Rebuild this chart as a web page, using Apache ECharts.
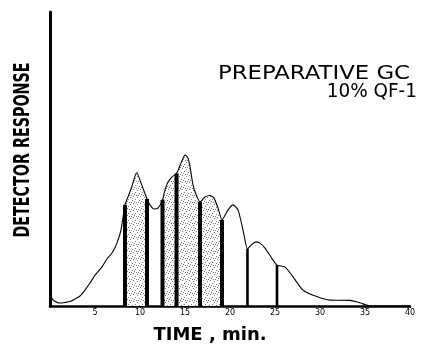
<!DOCTYPE html>
<html>
<head>
<meta charset="utf-8">
<script src="https://cdn.jsdelivr.net/npm/echarts@6.0.0/dist/echarts.min.js"></script>
<style>html,body{margin:0;padding:0;background:#fff;}#c{width:428px;height:346px;}</style>
</head>
<body>
<div id="c"></div>
<script>
// Chromatogram trace: retention time (min) and detector response (relative units)
const times = [0, 0.19, 0.56, 1.11, 1.67, 2.22, 2.78, 3.33, 3.89, 4.44, 5.0, 5.78, 6.33, 6.89, 7.44, 7.89,
  8.33, 8.67, 9.08, 9.63, 10.19, 10.78, 11.11, 11.56, 12.0, 12.5, 12.78, 13.11, 13.56, 14.06, 14.56, 15.0,
  15.33, 15.56, 15.89, 16.22, 16.67, 17.22, 17.78, 18.22, 18.67, 19.11, 19.78, 20.33, 20.89, 21.44, 21.94,
  22.33, 22.89, 23.33, 23.89, 24.63, 25.22, 26.11, 27.0, 28.11, 29.63, 31.11, 33.33, 34.44, 35.56, 40];
const response = [6.1, 2.7, 1.5, 1.0, 1.2, 1.5, 2.4, 3.4, 5.4, 7.8, 10.5, 13.3, 16.0, 18.0, 21.4, 25.9,
  34.4, 37.1, 40.5, 45.4, 41.2, 36.4, 34.4, 33.0, 33.3, 36.1, 39.5, 42.2, 43.9, 45.1, 48.6, 51.4,
  50.3, 47.3, 41.2, 38.0, 35.4, 37.1, 37.6, 36.7, 33.3, 29.3, 32.7, 34.4, 32.7, 25.9, 19.4,
  20.7, 21.8, 21.4, 19.7, 16.3, 13.9, 13.3, 9.9, 5.4, 3.2, 2.0, 1.9, 1.1, 0, 0];
// Fraction-collection cut times (min)
const cutTimes = [8.33, 10.78, 12.5, 14.06, 16.67, 19.11, 21.94, 25.22];
// Collected (stippled) fractions: pairs of cut indices
const collectedFractions = [[0, 1], [2, 3], [3, 4], [4, 5]];
// X tick labels
const tickValues = [5, 10, 15, 20, 25, 30, 35, 40];
const titleLines = ['PREPARATIVE GC', '10% QF-1'];
const xTitle = 'TIME , min.';
const yTitle = 'DETECTOR RESPONSE';

const curve = times.map((t, i) => [t, response[i]]);
const cuts = cutTimes.map(t => [t, response[times.indexOf(t)]]);

// stipple pattern
const pat = document.createElement('canvas');
pat.width = 7; pat.height = 7;
const pc = pat.getContext('2d');
pc.fillStyle = '#ffffff'; pc.fillRect(0, 0, 7, 7);
pc.fillStyle = '#7a7a7a';
[[0,0],[4,1],[2,3],[6,4],[1,5],[5,6],[3,6]].forEach(p => pc.fillRect(p[0], p[1], 1, 1));

const SMOOTH = 0.2;
const bandSeries = collectedFractions.map(([a, b]) => {
  const i0 = times.indexOf(cutTimes[a]);
  const i1 = times.indexOf(cutTimes[b]);
  return {
    type: 'line', data: curve.slice(i0, i1 + 1), smooth: SMOOTH, symbol: 'none', silent: true,
    lineStyle: { width: 0, opacity: 0 },
    areaStyle: { color: { image: pat, repeat: 'repeat' }, opacity: 1 },
    z: 1
  };
});

const chart = echarts.init(document.getElementById('c'), null, { renderer: 'canvas' });
chart.setOption({
  animation: false,
  backgroundColor: '#fff',
  grid: { left: 50, right: 18, top: 12, bottom: 40 },
  xAxis: {
    type: 'value', min: 0, max: 40, interval: 5,
    axisLine: { show: true, onZero: false, lineStyle: { color: '#000', width: 2.5 } },
    axisTick: { show: true, customValues: tickValues, length: 2, lineStyle: { color: '#000', width: 1 } },
    axisLabel: { customValues: tickValues, color: '#000', fontSize: 8, margin: 3, fontFamily: 'DejaVu Sans' },
    splitLine: { show: false }
  },
  yAxis: {
    type: 'value', min: 0, max: 100,
    axisLine: { show: true, lineStyle: { color: '#000', width: 3 } },
    axisTick: { show: false }, axisLabel: { show: false }, splitLine: { show: false }
  },
  series: bandSeries.concat([
    {
      type: 'line', data: curve, smooth: SMOOTH, symbol: 'none', silent: true,
      lineStyle: { color: '#000', width: 1.1 }, z: 3
    },
    {
      type: 'custom', data: cuts, z: 4, silent: true,
      renderItem: function (params, api) {
        const top = api.coord([api.value(0), api.value(1)]);
        const bot = api.coord([api.value(0), 0]);
        const w = params.dataIndex >= 6 ? 2.6 : 4;
        return { type: 'rect', shape: { x: top[0] - w / 2, y: top[1], width: w, height: bot[1] - top[1] },
          style: { fill: '#000' } };
      }
    }
  ]),
  graphic: [
    { type: 'text', x: 410, y: 74, scaleX: 1.14,
      style: { text: titleLines[0], font: '20px "DejaVu Sans"', fill: '#000', align: 'right', verticalAlign: 'middle' } },
    { type: 'text', x: 417, y: 92, scaleX: 0.97,
      style: { text: titleLines[1], font: '19px "DejaVu Sans"', fill: '#000', align: 'right', verticalAlign: 'middle' } },
    { type: 'text', x: 210, y: 335, style: { text: xTitle, font: 'bold 18px "DejaVu Sans"', fill: '#000', align: 'center', verticalAlign: 'middle' } },
    { type: 'text', x: 24, y: 150, rotation: Math.PI / 2, scaleX: 0.68,
      style: { text: yTitle, font: 'bold 21px "DejaVu Sans"', fill: '#000', align: 'center', verticalAlign: 'middle' } }
  ]
});
</script>
</body>
</html>
